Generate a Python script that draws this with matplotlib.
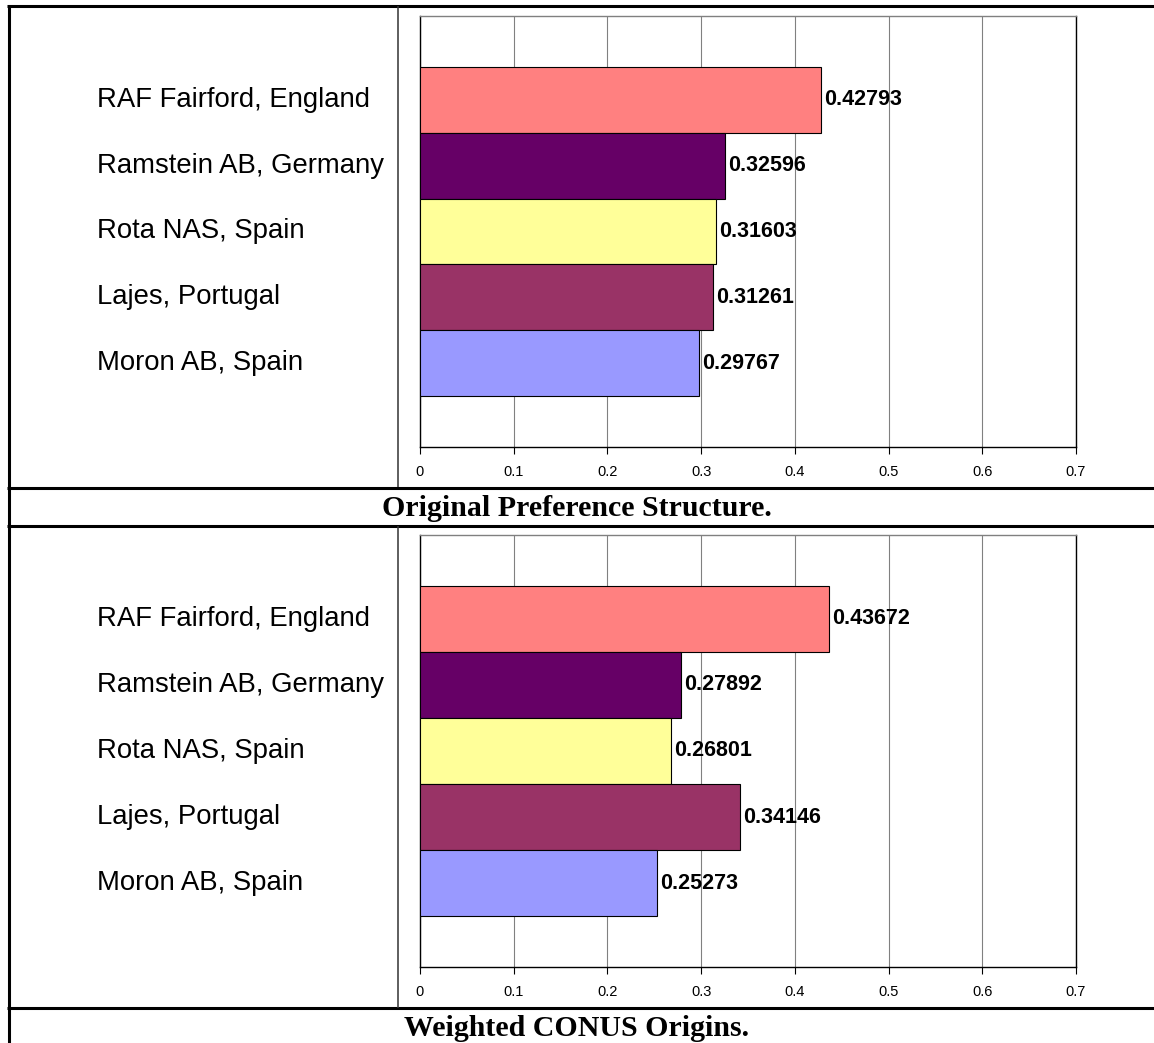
import matplotlib.pyplot as plt
from matplotlib.lines import Line2D
from matplotlib.transforms import blended_transform_factory

# data
bases = ['RAF Fairford, England', 'Ramstein AB, Germany', 'Rota NAS, Spain',
         'Lajes, Portugal', 'Moron AB, Spain']
colors = ['#FF8080', '#660066', '#FFFF99', '#993366', '#9999FF']
original = [0.42793, 0.32596, 0.31603, 0.31261, 0.29767]
weighted = [0.43672, 0.27892, 0.26801, 0.34146, 0.25273]
xticks = [0, 0.1, 0.2, 0.3, 0.4, 0.5, 0.6, 0.7]
titles = ['Original Preference Structure.', 'Weighted CONUS Origins.']

W, H = 1154, 1043
fig = plt.figure(figsize=(W / 100, H / 100), dpi=100)
fig.patch.set_facecolor('white')


def hline(y, x0, x1, lw, color='black'):
    fig.add_artist(Line2D([x0 / W, x1 / W], [1 - y / H, 1 - y / H],
                          transform=fig.transFigure, lw=lw, color=color,
                          solid_capstyle='butt'))


def vline(x, y0, y1, lw, color='black'):
    fig.add_artist(Line2D([x / W, x / W], [1 - y0 / H, 1 - y1 / H],
                          transform=fig.transFigure, lw=lw, color=color,
                          solid_capstyle='butt'))


def draw_chart(top, bottom, values):
    ax = fig.add_axes([420 / W, 1 - bottom / H, 656 / W, (bottom - top) / H])
    ypos = list(range(len(values)))[::-1]
    ax.barh(ypos, values, height=1.0, color=colors, edgecolor='black',
            linewidth=0.8, zorder=3)
    ax.set_xlim(0, 0.7)
    ax.set_ylim(-0.5 - 0.77, 4.5 + 0.77)
    ax.set_xticks(xticks)
    ax.set_xticklabels([f'{t:g}' for t in xticks], fontsize=10.5,
                       family='Liberation Sans')
    ax.set_yticks([])
    ax.tick_params(axis='x', direction='out', length=5, width=0.8, pad=8)
    ax.grid(axis='x', color='#808080', lw=0.8, zorder=0)
    ax.spines['top'].set_color('#808080')
    for s in ['left', 'bottom', 'right']:
        ax.spines[s].set_color('black')
    for s in ax.spines.values():
        s.set_linewidth(1.0)
    # value labels
    for y, v in zip(ypos, values):
        ax.text(v + 0.003, y, f'{v:.5f}', va='center', ha='left',
                fontsize=15.5, fontweight='bold', family='Liberation Sans',
                zorder=4)
    # base names sit in the left table column
    tr = blended_transform_factory(fig.transFigure, ax.transData)
    for y, name in zip(ypos, bases):
        ax.text(97 / W, y, name, transform=tr, va='center', ha='left',
                fontsize=19.8, family='Liberation Sans')
    return ax


draw_chart(16, 447, original)
draw_chart(535, 967, weighted)

# titles
fig.text(577 / W, 1 - 508 / H, titles[0], ha='center', va='center',
         fontsize=21.5, fontweight='bold', family='Liberation Serif')
fig.text(577 / W, 1 - 1028 / H, titles[1], ha='center', va='center',
         fontsize=21.5, fontweight='bold', family='Liberation Serif')

# table borders
hline(6, 7, W, 2.2)
hline(487.5, 7, W, 2.2)
hline(526, 7, W, 2.2)
hline(1008, 7, W, 2.2)
vline(8.5, 5, H, 2.2)
vline(398, 6, 487, 1.1, '#333333')
vline(398, 526, 1008, 1.1, '#333333')

fig.savefig('out.png', dpi=100, facecolor='white')
